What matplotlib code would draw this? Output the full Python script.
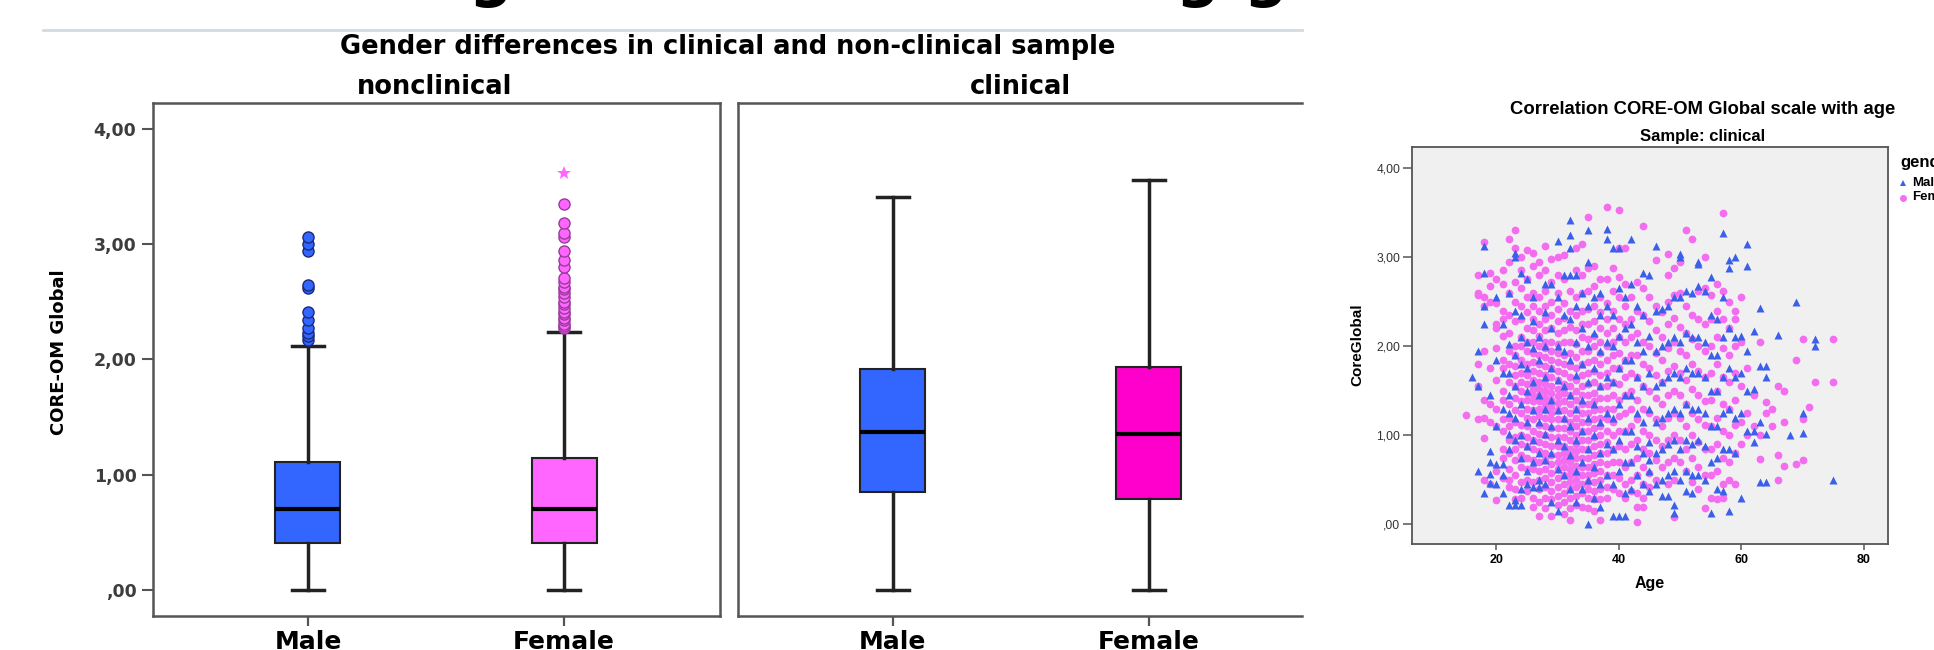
import matplotlib.pyplot as plt
from matplotlib.lines import Line2D
import numpy as np

genders = ['Male', 'Female']
samples = ['nonclinical', 'clinical']

# boxplot summaries, [Male, Female]
whisk_lo = {'nonclinical': [0.00, 0.00], 'clinical': [0.00, 0.00]}
q1 = {'nonclinical': [0.41, 0.41], 'clinical': [0.85, 0.79]}
median = {'nonclinical': [0.70, 0.70], 'clinical': [1.37, 1.35]}
q3 = {'nonclinical': [1.11, 1.14], 'clinical': [1.92, 1.93]}
whisk_hi = {'nonclinical': [2.12, 2.24], 'clinical': [3.41, 3.56]}
outliers = {
    'nonclinical': [
        [2.17, 2.20, 2.23, 2.27, 2.34, 2.41, 2.62, 2.65, 2.94, 3.00, 3.06],
        [2.27, 2.29, 2.31, 2.34, 2.36, 2.39, 2.41, 2.45, 2.48, 2.50, 2.54,
         2.58, 2.61, 2.63, 2.67, 2.71, 2.80, 2.86, 2.94, 3.06, 3.10, 3.18, 3.35],
    ],
    'clinical': [[], []],
}
extremes = {'nonclinical': [[], [3.62]], 'clinical': [[], []]}

# scatter: CORE-OM global score per age, clinical sample (read by column)
female_core = {
    15: [1.23],
    17: [2.80, 2.60, 2.57, 1.80, 1.55, 1.18],
    18: [3.17, 2.55, 2.45, 1.95, 1.40, 1.20, 0.97, 0.50],
    19: [2.82, 2.68, 2.50, 1.75, 1.35, 1.15, 0.45],
    20: [2.75, 2.48, 2.25, 2.20, 1.98, 1.62, 1.30, 1.10, 0.60, 0.27],
    21: [2.85, 2.70, 2.40, 2.30, 2.12, 1.85, 1.75, 1.50, 1.40, 1.18, 1.05, 0.85, 0.75, 0.52],
    22: [3.20, 2.95, 2.60, 2.35, 2.15, 1.95, 1.80, 1.60, 1.35, 1.20, 1.10, 0.95, 0.80, 0.62,
         0.50, 0.42],
    23: [3.30, 3.10, 2.72, 2.50, 2.28, 2.00, 1.90, 1.78, 1.68, 1.55, 1.42, 1.28, 1.15, 0.98,
         0.85, 0.72, 0.55, 0.40, 0.28],
    24: [3.00, 2.85, 2.65, 2.45, 2.30, 2.10, 2.00, 1.85, 1.70, 1.60, 1.50, 1.38, 1.25, 1.12,
         1.00, 0.90, 0.78, 0.65, 0.48, 0.30],
    25: [3.08, 2.75, 2.55, 2.38, 2.20, 2.05, 1.95, 1.80, 1.68, 1.58, 1.48, 1.40, 1.30, 1.20,
         1.10, 0.98, 0.88, 0.75, 0.62, 0.50, 0.38],
    26: [3.05, 2.90, 2.60, 2.45, 2.30, 2.18, 2.05, 1.92, 1.82, 1.72, 1.62, 1.52, 1.45, 1.38,
         1.28, 1.18, 1.05, 0.95, 0.85, 0.72, 0.62, 0.48, 0.30, 0.20],
    27: [2.95, 2.80, 2.55, 2.40, 2.25, 2.12, 2.00, 1.90, 1.80, 1.70, 1.60, 1.52, 1.45, 1.38,
         1.30, 1.22, 1.12, 1.02, 0.92, 0.82, 0.70, 0.60, 0.50, 0.40, 0.25, 0.10],
    28: [3.12, 2.85, 2.62, 2.45, 2.30, 2.18, 2.05, 1.98, 1.88, 1.78, 1.68, 1.58, 1.50, 1.42,
         1.35, 1.28, 1.20, 1.10, 1.00, 0.90, 0.80, 0.72, 0.62, 0.52, 0.42, 0.30, 0.18],
    29: [2.98, 2.72, 2.50, 2.35, 2.20, 2.05, 1.95, 1.85, 1.75, 1.65, 1.55, 1.48, 1.40, 1.32,
         1.25, 1.18, 1.08, 0.98, 0.88, 0.78, 0.68, 0.58, 0.48, 0.38, 0.28, 0.10],
    30: [3.00, 2.80, 2.60, 2.42, 2.28, 2.15, 2.02, 1.92, 1.82, 1.72, 1.62, 1.52, 1.44, 1.36,
         1.28, 1.18, 1.08, 0.98, 0.88, 0.78, 0.70, 0.62, 0.52, 0.42, 0.32, 0.22],
    31: [3.02, 2.75, 2.48, 2.32, 2.18, 2.05, 1.90, 1.80, 1.70, 1.58, 1.48, 1.38, 1.28, 1.18,
         1.08, 0.98, 0.88, 0.80, 0.72, 0.64, 0.55, 0.45, 0.35, 0.25, 0.12],
    32: [2.62, 2.40, 2.22, 2.05, 1.92, 1.78, 1.65, 1.55, 1.45, 1.35, 1.25, 1.15, 1.05, 0.95,
         0.85, 0.78, 0.70, 0.62, 0.55, 0.48, 0.40, 0.30, 0.18, 0.05],
    33: [3.10, 2.85, 2.55, 2.35, 2.18, 2.02, 1.88, 1.75, 1.62, 1.50, 1.40, 1.30, 1.20, 1.10,
         1.00, 0.90, 0.82, 0.74, 0.66, 0.58, 0.50, 0.42, 0.32, 0.22],
    34: [3.15, 2.80, 2.60, 2.40, 2.25, 2.10, 1.95, 1.80, 1.68, 1.55, 1.45, 1.35, 1.25, 1.15,
         1.05, 0.95, 0.85, 0.75, 0.65, 0.55, 0.45, 0.35, 0.20],
    35: [3.45, 2.88, 2.62, 2.42, 2.25, 2.08, 1.95, 1.82, 1.70, 1.58, 1.45, 1.35, 1.25, 1.15,
         1.05, 0.95, 0.85, 0.75, 0.65, 0.55, 0.48, 0.40, 0.30, 0.18],
    36: [2.90, 2.68, 2.45, 2.28, 2.12, 2.00, 1.85, 1.72, 1.60, 1.48, 1.38, 1.28, 1.18, 1.08,
         0.98, 0.88, 0.78, 0.68, 0.58, 0.48, 0.38, 0.28, 0.15],
    37: [2.75, 2.55, 2.38, 2.20, 2.05, 1.92, 1.80, 1.68, 1.55, 1.42, 1.30, 1.20, 1.10, 1.00,
         0.90, 0.80, 0.70, 0.60, 0.50, 0.40, 0.28, 0.05],
    38: [3.56, 2.75, 2.48, 2.30, 2.15, 2.00, 1.85, 1.70, 1.55, 1.42, 1.30, 1.18, 1.05, 0.92,
         0.80, 0.68, 0.55, 0.42, 0.30],
    39: [2.88, 2.62, 2.40, 2.20, 2.05, 1.90, 1.75, 1.60, 1.45, 1.30, 1.15, 1.00, 0.85, 0.70,
         0.55, 0.40],
    40: [3.53, 3.10, 2.78, 2.55, 2.30, 2.10, 1.92, 1.75, 1.58, 1.40, 1.22, 1.05, 0.88, 0.70,
         0.52, 0.35],
    41: [3.10, 2.70, 2.45, 2.25, 2.05, 1.85, 1.65, 1.45, 1.25, 1.05, 0.85, 0.65, 0.45, 0.30],
    42: [2.55, 2.30, 2.10, 1.90, 1.70, 1.50, 1.30, 1.10, 0.90, 0.70, 0.50, 0.38],
    43: [2.72, 2.40, 2.15, 1.90, 1.65, 1.40, 1.18, 0.95, 0.75, 0.55, 0.35, 0.20, 0.03],
    44: [3.35, 2.65, 2.35, 2.05, 1.80, 1.55, 1.30, 1.05, 0.85, 0.65, 0.45, 0.30, 0.20],
    45: [2.55, 2.28, 2.00, 1.75, 1.50, 1.25, 1.00, 0.80, 0.58, 0.42],
    46: [2.97, 2.45, 2.18, 1.92, 1.68, 1.42, 1.18, 0.95, 0.72, 0.50],
    47: [2.38, 2.10, 1.85, 1.60, 1.35, 1.10, 0.88, 0.65],
    48: [3.03, 2.80, 2.50, 2.25, 1.98, 1.72, 1.45, 1.20, 0.95, 0.70, 0.45],
    49: [2.88, 2.58, 2.32, 2.05, 1.78, 1.50, 1.25, 1.00, 0.75, 0.50, 0.08],
    50: [2.95, 2.60, 2.22, 1.95, 1.70, 1.45, 1.20, 0.95, 0.70],
    51: [3.30, 2.45, 2.15, 1.90, 1.62, 1.35, 1.10, 0.85, 0.60],
    52: [3.20, 2.35, 2.08, 1.80, 1.52, 1.25, 1.00, 0.75, 0.48],
    53: [2.62, 2.30, 2.00, 1.72, 1.45, 1.18, 0.92, 0.65, 0.40],
    54: [3.00, 2.65, 2.25, 1.95, 1.65, 1.38, 1.12, 0.85, 0.55, 0.18],
    55: [2.58, 2.30, 2.00, 1.70, 1.40, 1.10, 0.85, 0.55, 0.30],
    56: [2.70, 2.40, 2.10, 1.80, 1.50, 1.20, 0.90, 0.60, 0.28],
    57: [3.50, 2.62, 2.30, 1.98, 1.65, 1.35, 1.05, 0.75, 0.45, 0.30],
    58: [2.50, 2.20, 1.90, 1.60, 1.30, 1.00, 0.70, 0.50],
    59: [2.40, 2.30, 2.00, 1.70, 1.40, 1.12, 0.80, 0.45],
    60: [2.55, 2.05, 1.55, 1.15, 0.90],
    61: [1.75, 1.25, 1.00],
    62: [1.45, 1.10],
    63: [2.05, 1.00, 0.73],
    64: [1.37, 1.25],
    65: [1.30, 1.10],
    66: [1.55, 0.78, 0.50],
    67: [1.50, 1.15, 0.66],
    69: [1.85, 0.68],
    70: [2.08, 1.18, 0.72],
    71: [1.32],
    72: [1.60],
    75: [2.08, 1.60],
}

male_core = {
    16: [1.65],
    17: [1.95, 1.55, 0.60],
    18: [3.12, 2.82, 2.45, 2.25, 0.35],
    19: [1.45, 0.82, 0.70, 0.57, 0.47],
    20: [2.55, 1.85, 1.10, 0.68, 0.45],
    21: [2.25, 1.70, 1.30, 0.68, 0.55, 0.35],
    22: [2.60, 2.02, 1.70, 1.45, 1.25, 1.02, 0.85, 0.22],
    23: [3.05, 3.00, 2.40, 1.90, 1.55, 1.20, 0.95, 0.27, 0.22],
    24: [2.82, 2.35, 2.10, 1.80, 1.35, 1.00, 0.75, 0.40, 0.22],
    25: [2.75, 2.05, 1.75, 1.50, 1.15, 0.88, 0.60, 0.45],
    26: [2.55, 2.28, 1.98, 1.60, 1.28, 0.95, 0.70, 0.42],
    27: [2.10, 1.85, 1.45, 1.15, 0.80, 0.50, 0.42],
    28: [2.70, 2.38, 2.00, 1.65, 1.30, 1.02, 0.72, 0.45],
    29: [2.70, 2.20, 1.75, 1.40, 1.10, 0.80, 0.25],
    30: [3.18, 2.55, 2.00, 1.62, 1.28, 0.95, 0.62, 0.15],
    31: [2.80, 2.35, 1.95, 1.55, 1.20, 0.88, 0.55],
    32: [3.42, 3.25, 3.10, 2.80, 2.30, 1.85, 1.45, 1.10, 0.78, 0.40],
    33: [2.80, 2.45, 2.05, 1.68, 1.30, 0.95, 0.60, 0.25],
    34: [2.60, 2.20, 1.80, 1.40, 1.05, 0.70, 0.40],
    35: [3.30, 2.95, 2.45, 2.00, 1.60, 1.20, 0.85, 0.50, 0.00],
    36: [2.55, 2.15, 1.75, 1.35, 1.00, 0.65, 0.30],
    37: [2.60, 2.35, 1.95, 1.55, 1.15, 0.80, 0.45, 0.20],
    38: [3.32, 3.20, 2.45, 2.05, 1.65, 1.25, 0.90, 0.55],
    39: [3.10, 2.35, 2.00, 1.60, 1.20, 0.85, 0.45, 0.10],
    40: [3.10, 2.65, 2.12, 1.75, 1.35, 0.95, 0.60, 0.10],
    41: [2.55, 2.20, 1.85, 1.45, 1.05, 0.70, 0.35, 0.10],
    42: [3.20, 2.70, 2.25, 1.85, 1.45, 1.05, 0.70, 0.40],
    43: [2.45, 2.05, 1.65, 1.25, 0.88, 0.55],
    44: [2.82, 2.35, 1.95, 1.55, 1.15, 0.80, 0.45],
    45: [2.80, 2.12, 1.70, 1.30, 0.92, 0.72, 0.60, 0.38],
    46: [3.12, 2.40, 1.95, 1.55, 1.15, 0.80, 0.45],
    47: [2.42, 2.00, 1.60, 1.20, 0.85, 0.50, 0.32],
    48: [2.45, 2.05, 1.65, 1.25, 0.90, 0.55, 0.32],
    49: [2.55, 2.10, 1.70, 1.30, 0.95, 0.60, 0.22, 0.13],
    50: [3.03, 3.00, 2.55, 2.05, 1.65, 1.25, 0.85, 0.50],
    51: [2.62, 2.15, 1.75, 1.35, 0.95, 0.60, 0.38],
    52: [2.60, 2.10, 1.70, 1.30, 0.90, 0.55, 0.35],
    53: [2.95, 2.92, 2.68, 2.10, 1.70, 1.30, 0.95, 0.55],
    54: [2.62, 2.05, 1.65, 1.25, 0.88, 0.50],
    55: [2.78, 2.35, 1.90, 1.50, 1.10, 0.70, 0.13],
    56: [2.30, 1.90, 1.50, 1.10, 0.75, 0.40],
    57: [3.27, 2.55, 2.10, 1.65, 1.25, 0.85, 0.38],
    58: [2.97, 2.88, 2.20, 1.75, 1.30, 0.85, 0.15],
    59: [3.00, 2.10, 1.65, 1.20, 0.80],
    60: [2.12, 1.70, 1.25, 0.30],
    61: [3.15, 2.90, 1.95, 1.50, 1.05],
    62: [2.17, 1.52, 1.05, 0.92],
    63: [2.43, 1.78, 1.15, 0.48],
    64: [1.78, 1.65, 1.02, 0.48],
    66: [2.13],
    68: [1.00],
    69: [2.50],
    70: [1.25, 1.03],
    72: [2.08, 2.00],
    75: [0.50],
}

W, H = 1934, 650
BLUE = '#3366FF'
PINK_LIGHT = '#FF66FF'
PINK_DEEP = '#FF00CC'
SC_BLUE = '#3B5FE8'
SC_PINK = '#F46CF0'
BOX_FONT = 'DejaVu Sans'
SC_FONT = 'Liberation Sans'

fig = plt.figure(figsize=(W / 100, H / 100), dpi=100)


def px_axes(x0, y0, x1, y1):
    # axes placed by pixel box (top-left origin)
    return fig.add_axes([x0 / W, 1 - y1 / H, (x1 - x0) / W, (y1 - y0) / H])


def spss_label(v):
    s = f'{v:.2f}'.replace('.', ',')
    return s[1:] if s.startswith('0') else s


# slide title cut off at the top, only descenders visible
for gx in [490, 1197, 1265]:
    fig.text(gx / W, 1 + 5 / H, 'g', fontsize=44, fontweight='bold',
             ha='center', va='baseline', family=BOX_FONT, color='black')
fig.add_artist(Line2D([43 / W, 1302 / W], [1 - 30 / H, 1 - 30 / H],
                      color='#D3DAE2', lw=2, transform=fig.transFigure))

fig.text(728 / W, 1 - 47 / H, 'Gender differences in clinical and non-clinical sample',
         fontsize=18.5, fontweight='bold', ha='center', va='center', family=BOX_FONT)

# boxplot panels
panel_px = {'nonclinical': (153, 720), 'clinical': (737.5, 1302)}
panel_xlim = {'nonclinical': (0.395, 2.609), 'clinical': (0.393, 2.598)}
female_col = {'nonclinical': PINK_LIGHT, 'clinical': PINK_DEEP}
title_x = {'nonclinical': 435, 'clinical': 1020}

for k, sample in enumerate(samples):
    x0, x1 = panel_px[sample]
    ax = px_axes(x0, 102.5, x1, 615.6)
    stats = []
    for i, g in enumerate(genders):
        stats.append(dict(label=g, whislo=whisk_lo[sample][i], q1=q1[sample][i],
                          med=median[sample][i], q3=q3[sample][i],
                          whishi=whisk_hi[sample][i], fliers=outliers[sample][i]))
    bp = ax.bxp(stats, positions=[1, 2], widths=0.254, capwidths=0.125,
                patch_artist=True, showfliers=True,
                boxprops=dict(edgecolor='#222222', linewidth=1.5),
                medianprops=dict(color='black', linewidth=3),
                whiskerprops=dict(color='#222222', linewidth=2.5),
                capprops=dict(color='#222222', linewidth=2.5),
                flierprops=dict(marker='o', markersize=8, markeredgewidth=1))
    colors = [BLUE, female_col[sample]]
    edges = ['#1a2a7a', '#9a3a9a']
    for patch, c in zip(bp['boxes'], colors):
        patch.set_facecolor(c)
    for fl, c, e in zip(bp['fliers'], colors, edges):
        fl.set_markerfacecolor(c)
        fl.set_markeredgecolor(e)
    for i in range(2):
        ext = extremes[sample][i]
        if ext:
            ax.plot([i + 1] * len(ext), ext, ls='', marker='*', markersize=10,
                    color=PINK_LIGHT, markeredgewidth=0)

    ax.set_xlim(*panel_xlim[sample])
    ax.set_ylim(-0.224, 4.23)
    for sp in ax.spines.values():
        sp.set_color('#555555')
        sp.set_linewidth(1.8)
    ax.set_xticks([1, 2])
    ax.set_xticklabels(genders, fontsize=18, fontweight='bold', family=BOX_FONT)
    ax.tick_params(axis='x', length=7.2, width=1.6, color='#555555', pad=3.5)
    if k == 0:
        ticks = [0, 1, 2, 3, 4]
        ax.set_yticks(ticks)
        ax.set_yticklabels([spss_label(t) for t in ticks], fontsize=12.5,
                           fontweight='bold', family=BOX_FONT, color='#3d3d3d')
        ax.tick_params(axis='y', length=7.9, width=1.5, color='#555555', pad=4)
    else:
        ax.set_yticks([])
        ax.spines['right'].set_visible(False)
    fig.text(title_x[sample] / W, 1 - 94 / H, sample, fontsize=18.5, fontweight='bold',
             ha='center', va='baseline', family=BOX_FONT)

fig.text(59 / W, 1 - 352 / H, 'CORE-OM Global', rotation=90, fontsize=13,
         fontweight='bold', ha='center', va='center', family=BOX_FONT)

# scatter panel
ax3 = px_axes(1412, 147.3, 1888, 543.6)
ax3.set_facecolor('#F0F0F0')
fa = [a for a, v in female_core.items() for _ in v]
fs = [s for v in female_core.values() for s in v]
ma = [a for a, v in male_core.items() for _ in v]
ms = [s for v in male_core.values() for s in v]
ax3.scatter(fa, fs, marker='o', s=31, color=SC_PINK, linewidths=0, zorder=2)
ax3.scatter(ma, ms, marker='^', s=33, color=SC_BLUE, linewidths=0, zorder=3)
ax3.set_xlim(6.22, 83.95)
ax3.set_ylim(-0.215, 4.232)
for sp in ax3.spines.values():
    sp.set_color('#555555')
    sp.set_linewidth(1.3)
yt = [0, 1, 2, 3, 4]
ax3.set_yticks(yt)
ax3.set_yticklabels([spss_label(t) for t in yt], fontsize=8.7, family=SC_FONT, color='#333333')
ax3.set_xticks([20, 40, 60, 80])
ax3.set_xticklabels(['20', '40', '60', '80'], fontsize=9, fontweight='bold', family=SC_FONT)
ax3.tick_params(axis='y', length=6.8, width=1.1, color='#555555', pad=1.5)
ax3.tick_params(axis='x', length=4.3, width=1.1, color='#555555', pad=3)

fig.text(1703 / W, 1 - 109 / H, 'Correlation CORE-OM Global scale with age',
         fontsize=13.3, fontweight='bold', ha='center', va='center', family=SC_FONT)
fig.text(1703 / W, 1 - 137 / H, 'Sample: clinical', fontsize=12, fontweight='bold',
         ha='center', va='center', family=SC_FONT)
fig.text(1357 / W, 1 - 345 / H, 'CoreGlobal', rotation=90, fontsize=11, fontweight='bold',
         ha='center', va='center', family=SC_FONT)
fig.text(1650 / W, 1 - 583.6 / H, 'Age', fontsize=11.5, fontweight='bold',
         ha='center', va='center', family=SC_FONT)

# legend, clipped by the right edge of the picture as in the original
fig.text(1900.6 / W, 1 - 162 / H, 'gender', fontsize=12, fontweight='bold',
         ha='left', va='center', family=SC_FONT)
leg_y = [182.5, 197.5]
leg_mk = ['^', 'o']
leg_c = [SC_BLUE, SC_PINK]
for y, m, c, g in zip(leg_y, leg_mk, leg_c, genders):
    fig.add_artist(Line2D([1903 / W], [1 - y / H], marker=m, ls='', color=c,
                          markersize=5, markeredgewidth=0, transform=fig.transFigure))
    fig.text(1912 / W, 1 - y / H, g, fontsize=9.5, fontweight='bold', ha='left',
             va='center', family=SC_FONT)

fig.savefig('out.png', dpi=100)
